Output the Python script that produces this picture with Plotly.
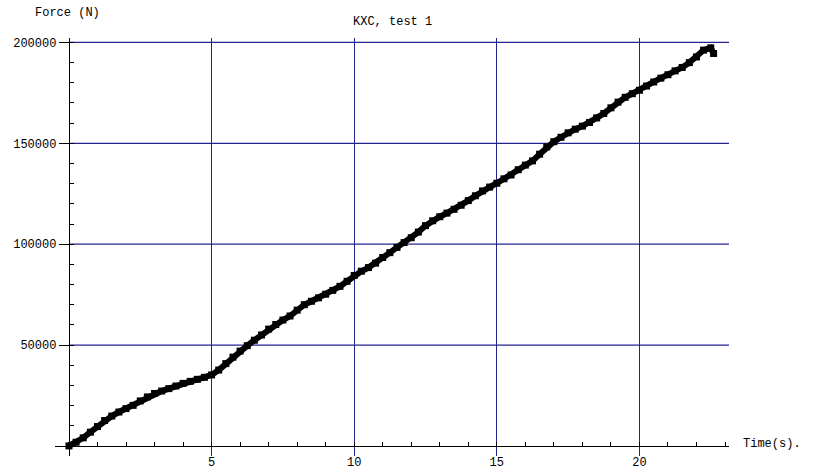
import plotly.graph_objects as go

# Load test KXC, test 1: force vs. time
time_s = [0, 0.25, 0.5, 0.75, 1.0, 1.25, 1.5, 1.75, 2.0, 2.25, 2.5, 2.75, 3.0, 3.25, 3.5,
          3.75, 4.0, 4.25, 4.5, 4.75, 5.0, 5.25, 5.5, 5.75, 6.0, 6.25, 6.5, 6.75, 7.0, 7.25,
          7.5, 7.75, 8.0, 8.25, 8.5, 8.75, 9.0, 9.25, 9.5, 9.75, 10.0, 10.25, 10.5, 10.75,
          11.0, 11.25, 11.5, 11.75, 12.0, 12.25, 12.5, 12.75, 13.0, 13.25, 13.5, 13.75,
          14.0, 14.25, 14.5, 14.75, 15.0, 15.25, 15.5, 15.75, 16.0, 16.25, 16.5, 16.75,
          17.0, 17.25, 17.5, 17.75, 18.0, 18.25, 18.5, 18.75, 19.0, 19.25, 19.5, 19.75,
          20.0, 20.25, 20.5, 20.75, 21.0, 21.25, 21.5, 21.75, 22.0, 22.25, 22.5, 22.6]
force_n = [0, 1800, 4000, 6800, 9600, 12600, 14800, 16800, 18500, 20100, 22300, 24300,
           26000, 27200, 28400, 29700, 31000, 32000, 33000, 34000, 35200, 37600, 40800,
           44000, 47000, 49700, 52400, 55000, 57900, 60200, 62400, 64400, 67300, 70000,
           71700, 73400, 75200, 77100, 79100, 81600, 84500, 86600, 88400, 90600, 93400,
           95800, 98400, 100800, 103200, 106000, 109200, 111600, 113600, 115400, 117300,
           119300, 121600, 124000, 126400, 128300, 130200, 132400, 134300, 136900, 139200,
           141300, 144600, 148200, 150800, 153000, 155200, 157000, 158500, 160300, 162600,
           164800, 167600, 170400, 172800, 174600, 176300, 178400, 180400, 182300, 184000,
           185900, 187600, 190000, 192800, 196200, 197300, 194500]

x_ticks = [5, 10, 15, 20]
y_ticks = [50000, 100000, 150000, 200000]

x_range = [-0.49, 23.14]
y_range = [-5000, 202200]

grid_color = "#24248f"
font_family = "Liberation Mono, Courier New, monospace"

# paper positions of the data origin, so the axes cross at (0, 0)
x_axis_pos = (0 - y_range[0]) / (y_range[1] - y_range[0])
y_axis_pos = (0 - x_range[0]) / (x_range[1] - x_range[0])

fig = go.Figure()
fig.add_trace(go.Scatter(
    x=time_s, y=force_n, mode="lines+markers",
    line=dict(color="black", width=6),
    marker=dict(symbol="square", size=7, color="black"),
    showlegend=False, hoverinfo="skip",
))

# horizontal grid lines start at the force axis
for yv in y_ticks:
    fig.add_shape(type="line", xref="x", yref="y", x0=0, x1=x_range[1], y0=yv, y1=yv,
                  line=dict(color=grid_color, width=1.3), layer="below")

fig.update_layout(
    width=813, height=470,
    margin=dict(l=55, r=84, t=38, b=14, autoexpand=False),
    plot_bgcolor="white", paper_bgcolor="white",
    font=dict(family=font_family, size=12, color="black"),
    xaxis=dict(
        range=x_range, anchor="free", position=x_axis_pos, automargin=False,
        tickmode="array", tickvals=x_ticks, ticktext=[str(v) for v in x_ticks],
        showgrid=True, gridcolor=grid_color, gridwidth=1.3,
        zeroline=False, showline=True, linecolor="black", linewidth=1.3,
        ticks="outside", ticklen=5, tickcolor=grid_color, tickwidth=1.3,
        minor=dict(dtick=1, tick0=0, ticks="inside", ticklen=4, tickcolor="black",
                   tickwidth=1, showgrid=False),
        tickfont=dict(family=font_family, size=12),
    ),
    yaxis=dict(
        range=y_range, anchor="free", position=y_axis_pos, automargin=False,
        tickmode="array", tickvals=y_ticks, ticktext=[str(v) for v in y_ticks],
        showgrid=False, zeroline=False, showline=True, linecolor="black", linewidth=1.3,
        ticks="outside", ticklen=10, tickcolor="black", tickwidth=1.3,
        minor=dict(dtick=10000, tick0=0, ticks="inside", ticklen=4, tickcolor="black",
                   tickwidth=1, showgrid=False),
        tickfont=dict(family=font_family, size=12),
    ),
    annotations=[
        dict(text="KXC, test 1", xref="paper", yref="paper", x=0.5, y=1,
             xanchor="center", yanchor="middle", yshift=16, showarrow=False,
             font=dict(family=font_family, size=12)),
        dict(text="Force (N)", xref="paper", yref="paper", x=0, y=1,
             xanchor="left", yanchor="middle", xshift=-22, yshift=25, showarrow=False,
             font=dict(family=font_family, size=12)),
        dict(text="Time(s).", xref="paper", yref="paper", x=1, y=x_axis_pos,
             xanchor="left", yanchor="middle", xshift=12, yshift=2, showarrow=False,
             font=dict(family=font_family, size=12)),
    ],
)

fig.write_html("out.html")
